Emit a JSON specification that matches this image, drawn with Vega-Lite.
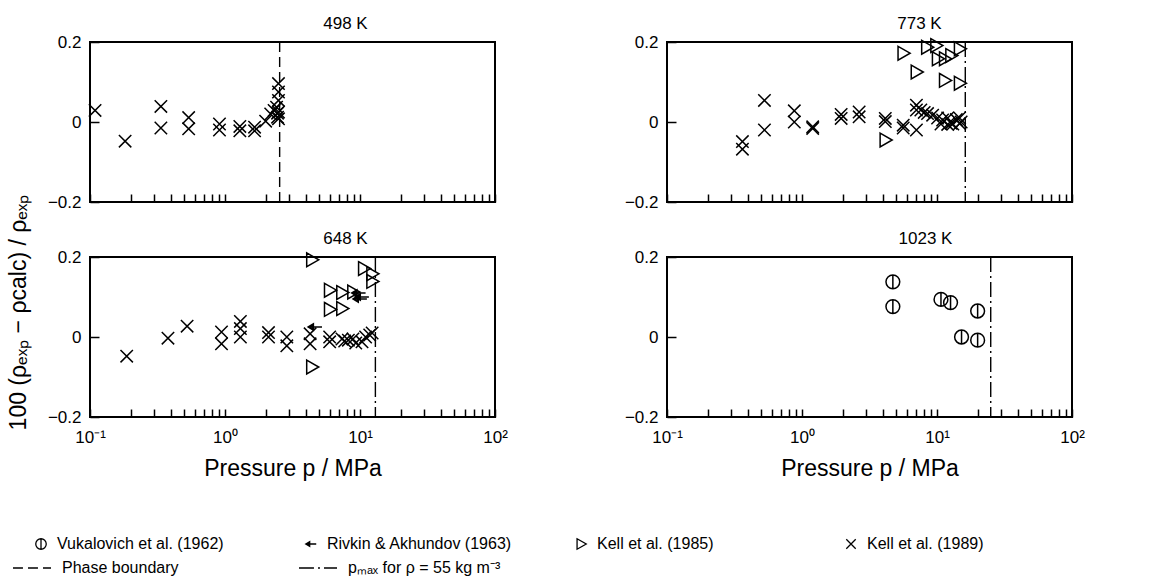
{
  "$schema": "https://vega.github.io/schema/vega-lite/v6.json",
  "background": "white",
  "padding": {"left": 6, "top": 14, "right": 10, "bottom": 0},
  "config": {
    "font": "Liberation Sans",
    "view": {"stroke": "black", "strokeWidth": 2},
    "axis": {"grid": false, "domain": false, "tickColor": "black", "tickWidth": 1.5, "labelColor": "black", "labelFontSize": 17, "labelFont": "Liberation Sans", "titleColor": "black", "titleFont": "Liberation Sans", "titleFontWeight": "normal"},
    "title": {"fontSize": 17, "fontWeight": "normal", "color": "black", "font": "Liberation Sans", "frame": "group"},
    "legend": {"labelFont": "Liberation Sans", "labelFontSize": 16, "labelColor": "black", "labelLimit": 400}
  },
  "datasets": {
    "pts": [
      {"T": "498", "p": 0.109, "d": 0.029, "s": "K89"},
      {"T": "498", "p": 0.182, "d": -0.048, "s": "K89"},
      {"T": "498", "p": 0.335, "d": 0.039, "s": "K89"},
      {"T": "498", "p": 0.335, "d": -0.015, "s": "K89"},
      {"T": "498", "p": 0.538, "d": 0.011, "s": "K89"},
      {"T": "498", "p": 0.538, "d": -0.017, "s": "K89"},
      {"T": "498", "p": 0.91, "d": -0.005, "s": "K89"},
      {"T": "498", "p": 0.91, "d": -0.02, "s": "K89"},
      {"T": "498", "p": 1.288, "d": -0.011, "s": "K89"},
      {"T": "498", "p": 1.288, "d": -0.022, "s": "K89"},
      {"T": "498", "p": 1.656, "d": -0.013, "s": "K89"},
      {"T": "498", "p": 1.656, "d": -0.022, "s": "K89"},
      {"T": "498", "p": 2.0, "d": 0.002, "s": "K89"},
      {"T": "498", "p": 2.18, "d": 0.02, "s": "K89"},
      {"T": "498", "p": 2.31, "d": 0.029, "s": "K89"},
      {"T": "498", "p": 2.41, "d": 0.037, "s": "K89"},
      {"T": "498", "p": 2.45, "d": 0.022, "s": "K89"},
      {"T": "498", "p": 2.45, "d": 0.012, "s": "K89"},
      {"T": "498", "p": 2.49, "d": 0.096, "s": "K89"},
      {"T": "498", "p": 2.49, "d": 0.075, "s": "K89"},
      {"T": "498", "p": 2.49, "d": 0.054, "s": "K89"},
      {"T": "498", "p": 2.49, "d": 0.025, "s": "K89"},
      {"T": "498", "p": 2.49, "d": 0.008, "s": "K89"},
      {"T": "773", "p": 0.362, "d": -0.049, "s": "K89"},
      {"T": "773", "p": 0.362, "d": -0.068, "s": "K89"},
      {"T": "773", "p": 0.527, "d": 0.054, "s": "K89"},
      {"T": "773", "p": 0.527, "d": -0.02, "s": "K89"},
      {"T": "773", "p": 0.877, "d": 0.028, "s": "K89"},
      {"T": "773", "p": 0.877, "d": 0.0, "s": "K89"},
      {"T": "773", "p": 1.2, "d": -0.012, "s": "K89"},
      {"T": "773", "p": 1.2, "d": -0.016, "s": "K89"},
      {"T": "773", "p": 1.95, "d": 0.019, "s": "K89"},
      {"T": "773", "p": 1.95, "d": 0.009, "s": "K89"},
      {"T": "773", "p": 2.65, "d": 0.025, "s": "K89"},
      {"T": "773", "p": 2.65, "d": 0.013, "s": "K89"},
      {"T": "773", "p": 4.14, "d": 0.009, "s": "K89"},
      {"T": "773", "p": 4.14, "d": 0.001, "s": "K89"},
      {"T": "773", "p": 5.62, "d": -0.008, "s": "K89"},
      {"T": "773", "p": 5.62, "d": -0.015, "s": "K89"},
      {"T": "773", "p": 7.04, "d": 0.042, "s": "K89"},
      {"T": "773", "p": 7.04, "d": 0.03, "s": "K89"},
      {"T": "773", "p": 7.04, "d": -0.02, "s": "K89"},
      {"T": "773", "p": 7.59, "d": 0.03, "s": "K89"},
      {"T": "773", "p": 8.04, "d": 0.024, "s": "K89"},
      {"T": "773", "p": 8.51, "d": 0.021, "s": "K89"},
      {"T": "773", "p": 9.28, "d": 0.017, "s": "K89"},
      {"T": "773", "p": 10.1, "d": 0.01, "s": "K89"},
      {"T": "773", "p": 10.7, "d": -0.005, "s": "K89"},
      {"T": "773", "p": 11.0, "d": 0.005, "s": "K89"},
      {"T": "773", "p": 12.0, "d": 0.01, "s": "K89"},
      {"T": "773", "p": 12.0, "d": -0.006, "s": "K89"},
      {"T": "773", "p": 12.7, "d": -0.003, "s": "K89"},
      {"T": "773", "p": 13.1, "d": -0.005, "s": "K89"},
      {"T": "773", "p": 13.9, "d": 0.006, "s": "K89"},
      {"T": "773", "p": 14.7, "d": 0.01, "s": "K89"},
      {"T": "773", "p": 14.7, "d": -0.004, "s": "K89"},
      {"T": "773", "p": 15.1, "d": 0.0, "s": "K89"},
      {"T": "773", "p": 4.14, "d": -0.045, "s": "K85"},
      {"T": "773", "p": 5.62, "d": 0.172, "s": "K85"},
      {"T": "773", "p": 7.04, "d": 0.125, "s": "K85"},
      {"T": "773", "p": 8.41, "d": 0.187, "s": "K85"},
      {"T": "773", "p": 9.83, "d": 0.191, "s": "K85"},
      {"T": "773", "p": 10.1, "d": 0.158, "s": "K85"},
      {"T": "773", "p": 11.4, "d": 0.158, "s": "K85"},
      {"T": "773", "p": 12.7, "d": 0.166, "s": "K85"},
      {"T": "773", "p": 11.4, "d": 0.104, "s": "K85"},
      {"T": "773", "p": 14.7, "d": 0.183, "s": "K85"},
      {"T": "773", "p": 14.7, "d": 0.097, "s": "K85"},
      {"T": "648", "p": 0.187, "d": -0.048, "s": "K89"},
      {"T": "648", "p": 0.378, "d": -0.003, "s": "K89"},
      {"T": "648", "p": 0.524, "d": 0.027, "s": "K89"},
      {"T": "648", "p": 0.942, "d": 0.0125, "s": "K89"},
      {"T": "648", "p": 0.942, "d": -0.017, "s": "K89"},
      {"T": "648", "p": 1.3, "d": 0.039, "s": "K89"},
      {"T": "648", "p": 1.3, "d": 0.021, "s": "K89"},
      {"T": "648", "p": 1.3, "d": 0.0, "s": "K89"},
      {"T": "648", "p": 2.1, "d": 0.011, "s": "K89"},
      {"T": "648", "p": 2.1, "d": 0.0, "s": "K89"},
      {"T": "648", "p": 2.87, "d": 0.0, "s": "K89"},
      {"T": "648", "p": 2.87, "d": -0.022, "s": "K89"},
      {"T": "648", "p": 4.27, "d": 0.008, "s": "K89"},
      {"T": "648", "p": 4.27, "d": -0.017, "s": "K89"},
      {"T": "648", "p": 5.96, "d": 0.0, "s": "K89"},
      {"T": "648", "p": 5.96, "d": -0.012, "s": "K89"},
      {"T": "648", "p": 7.35, "d": -0.005, "s": "K89"},
      {"T": "648", "p": 7.7, "d": -0.01, "s": "K89"},
      {"T": "648", "p": 8.2, "d": -0.008, "s": "K89"},
      {"T": "648", "p": 8.87, "d": -0.005, "s": "K89"},
      {"T": "648", "p": 9.3, "d": -0.015, "s": "K89"},
      {"T": "648", "p": 10.35, "d": -0.012, "s": "K89"},
      {"T": "648", "p": 11.0, "d": 0.0, "s": "K89"},
      {"T": "648", "p": 11.8, "d": 0.005, "s": "K89"},
      {"T": "648", "p": 12.3, "d": 0.01, "s": "K89"},
      {"T": "648", "p": 4.4, "d": 0.193, "s": "K85"},
      {"T": "648", "p": 4.4, "d": -0.075, "s": "K85"},
      {"T": "648", "p": 5.96, "d": 0.117, "s": "K85"},
      {"T": "648", "p": 5.96, "d": 0.069, "s": "K85"},
      {"T": "648", "p": 7.35, "d": 0.111, "s": "K85"},
      {"T": "648", "p": 7.35, "d": 0.071, "s": "K85"},
      {"T": "648", "p": 8.87, "d": 0.1125, "s": "K85"},
      {"T": "648", "p": 10.66, "d": 0.171, "s": "K85"},
      {"T": "648", "p": 12.28, "d": 0.158, "s": "K85"},
      {"T": "648", "p": 12.28, "d": 0.139, "s": "K85"},
      {"T": "648", "p": 4.65, "d": 0.025, "s": "R"},
      {"T": "648", "p": 9.78, "d": 0.11, "s": "R"},
      {"T": "648", "p": 10.35, "d": 0.1, "s": "R"},
      {"T": "648", "p": 10.0, "d": 0.095, "s": "R"},
      {"T": "1023", "p": 4.71, "d": 0.138, "s": "V"},
      {"T": "1023", "p": 4.71, "d": 0.076, "s": "V"},
      {"T": "1023", "p": 10.7, "d": 0.094, "s": "V"},
      {"T": "1023", "p": 12.6, "d": 0.086, "s": "V"},
      {"T": "1023", "p": 20.0, "d": 0.065, "s": "V"},
      {"T": "1023", "p": 15.2, "d": 0.0, "s": "V"},
      {"T": "1023", "p": 20.0, "d": -0.008, "s": "V"}
    ],
    "lines": [
      {"T": "498", "p": 2.54, "k": "PB"},
      {"T": "773", "p": 16.2, "k": "PM"},
      {"T": "648", "p": 13.0, "k": "PM"},
      {"T": "1023", "p": 25.0, "k": "PM"}
    ]
  },
  "columns": 2,
  "spacing": {"row": 55, "column": 172},
  "bounds": "flush",
  "resolve": {
    "scale": {"shape": "shared", "strokeDash": "shared"},
    "legend": {"shape": "shared", "strokeDash": "shared"}
  },
  "concat": [
    {
      "width": 405, "height": 160,
      "title": {"text": "498 K", "dx": 53, "offset": 0},
      "layer": [
        {"mark": {"type": "rule", "color": "black", "strokeWidth": 2}, "encoding": {"y": {"datum": 0, "type": "quantitative"}}},
        {"data": {"name": "lines"}, "transform": [{"filter": "datum.T == '498'"}],
         "mark": {"type": "rule", "color": "black", "strokeWidth": 1.4},
         "encoding": {"x": {"field": "p", "type": "quantitative"},
           "strokeDash": {"field": "k", "type": "nominal", "scale": {"domain": ["PB", "PM"], "range": [[10, 5], [15, 4, 2, 4]]},
             "legend": {"title": null, "orient": "none", "legendX": -78, "legendY": 506, "direction": "horizontal", "columns": 2, "gridAlign": "all", "columnPadding": 81, "symbolType": "stroke", "symbolSize": 1450, "symbolStrokeWidth": 1.4, "symbolStrokeColor": "black", "labelOffset": 10,
               "labelExpr": "datum.label == 'PB' ? 'Phase boundary' : 'pₘₐₓ for ρ = 55 kg m⁻³'"}}}},
        {"data": {"name": "pts"}, "transform": [{"filter": "datum.T == '498'"}],
         "mark": {"type": "point", "filled": false, "color": "black", "strokeWidth": 1.5, "size": 190, "opacity": 1},
         "encoding": {
           "x": {"field": "p", "type": "quantitative", "scale": {"type": "log", "domain": [0.1, 100]},
             "axis": {"values": [0.1,0.2,0.3,0.4,0.5,0.6,0.7,0.8,0.9,1,2,3,4,5,6,7,8,9,10,20,30,40,50,60,70,80,90,100], "labels": false, "tickSize": -8, "title": null}},
           "y": {"field": "d", "type": "quantitative", "scale": {"domain": [-0.2, 0.2], "nice": false, "zero": false},
             "axis": {"values": [-0.2, -0.1, 0, 0.1, 0.2], "labelExpr": "datum.value == 0 ? '0' : (abs(datum.value) > 0.15 ? datum.label : '')", "tickSize": -9, "labelPadding": 18,
               "title": "100 (ρₑₓₚ − ρcalc) / ρₑₓₚ", "titleX": -72, "titleY": 270, "titleFontSize": 23, "titleAngle": -90, "titleAlign": "center", "titleBaseline": "middle"}},
           "shape": {"field": "s", "type": "nominal", "scale": {"domain": ["V", "R", "K85", "K89"], "range": ["M -1 0 A 1 1 0 1 1 1 0 A 1 1 0 1 1 -1 0 Z M 0 -1 L 0 1", "M -1 0 L -0.25 -0.45 L -0.25 0.45 Z M -0.75 0 L -0.35 -0.2 L -0.35 0.2 Z M -0.5 0 L 1 0", "M -0.75 -1 L 1 0 L -0.75 1 Z", "M -0.9 -0.9 L 0.9 0.9 M -0.9 0.9 L 0.9 -0.9"]},
             "legend": {"title": null, "orient": "none", "legendX": -57, "legendY": 494, "direction": "horizontal", "columns": 4, "gridAlign": "all", "columnPadding": 61, "symbolSize": 110, "symbolStrokeColor": "black", "symbolStrokeWidth": 1.3, "symbolFillColor": "transparent", "labelOffset": 8,
               "labelExpr": "datum.label == 'V' ? 'Vukalovich et al. (1962)' : datum.label == 'R' ? 'Rivkin & Akhundov (1963)' : datum.label == 'K85' ? 'Kell et al. (1985)' : 'Kell et al. (1989)'"}}
         }}
      ]
    },
    {
      "width": 405, "height": 160,
      "title": {"text": "773 K", "dx": 50, "offset": 0},
      "layer": [
        {"mark": {"type": "rule", "color": "black", "strokeWidth": 2}, "encoding": {"y": {"datum": 0, "type": "quantitative"}}},
        {"data": {"name": "lines"}, "transform": [{"filter": "datum.T == '773'"}],
         "mark": {"type": "rule", "color": "black", "strokeWidth": 1.4},
         "encoding": {"x": {"field": "p", "type": "quantitative"},
           "strokeDash": {"field": "k", "type": "nominal", "scale": {"domain": ["PB", "PM"], "range": [[10, 5], [15, 4, 2, 4]]}}}},
        {"data": {"name": "pts"}, "transform": [{"filter": "datum.T == '773'"}],
         "mark": {"type": "point", "filled": false, "color": "black", "strokeWidth": 1.5, "size": 190, "opacity": 1},
         "encoding": {
           "x": {"field": "p", "type": "quantitative", "scale": {"type": "log", "domain": [0.1, 100]},
             "axis": {"values": [0.1,0.2,0.3,0.4,0.5,0.6,0.7,0.8,0.9,1,2,3,4,5,6,7,8,9,10,20,30,40,50,60,70,80,90,100], "labels": false, "tickSize": -8, "title": null}},
           "y": {"field": "d", "type": "quantitative", "scale": {"domain": [-0.2, 0.2], "nice": false, "zero": false},
             "axis": {"values": [-0.2, -0.1, 0, 0.1, 0.2], "labelExpr": "datum.value == 0 ? '0' : (abs(datum.value) > 0.15 ? datum.label : '')", "tickSize": -9, "labelPadding": 18, "title": null}},
           "shape": {"field": "s", "type": "nominal", "scale": {"domain": ["V", "R", "K85", "K89"], "range": ["M -1 0 A 1 1 0 1 1 1 0 A 1 1 0 1 1 -1 0 Z M 0 -1 L 0 1", "M -1 0 L -0.25 -0.45 L -0.25 0.45 Z M -0.75 0 L -0.35 -0.2 L -0.35 0.2 Z M -0.5 0 L 1 0", "M -0.75 -1 L 1 0 L -0.75 1 Z", "M -0.9 -0.9 L 0.9 0.9 M -0.9 0.9 L 0.9 -0.9"]}}
         }}
      ]
    },
    {
      "width": 405, "height": 160,
      "title": {"text": "648 K", "dx": 53, "offset": 0},
      "layer": [
        {"mark": {"type": "rule", "color": "black", "strokeWidth": 2}, "encoding": {"y": {"datum": 0, "type": "quantitative"}}},
        {"data": {"name": "lines"}, "transform": [{"filter": "datum.T == '648'"}],
         "mark": {"type": "rule", "color": "black", "strokeWidth": 1.4},
         "encoding": {"x": {"field": "p", "type": "quantitative"},
           "strokeDash": {"field": "k", "type": "nominal", "scale": {"domain": ["PB", "PM"], "range": [[10, 5], [15, 4, 2, 4]]}}}},
        {"data": {"name": "pts"}, "transform": [{"filter": "datum.T == '648'"}],
         "mark": {"type": "point", "filled": false, "color": "black", "strokeWidth": 1.5, "size": 190, "opacity": 1},
         "encoding": {
           "x": {"field": "p", "type": "quantitative", "scale": {"type": "log", "domain": [0.1, 100]},
             "axis": {"values": [0.1,0.2,0.3,0.4,0.5,0.6,0.7,0.8,0.9,1,2,3,4,5,6,7,8,9,10,20,30,40,50,60,70,80,90,100], "tickSize": -8, "labelPadding": 20, "labelFlush": false, "labelOverlap": false,
               "labelExpr": "datum.value == 0.1 ? '10⁻¹' : datum.value == 1 ? '10⁰' : datum.value == 10 ? '10¹' : datum.value == 100 ? '10²' : ''",
               "title": "Pressure p / MPa", "titleFontSize": 23, "titlePadding": 12}},
           "y": {"field": "d", "type": "quantitative", "scale": {"domain": [-0.2, 0.2], "nice": false, "zero": false},
             "axis": {"values": [-0.2, -0.1, 0, 0.1, 0.2], "labelExpr": "datum.value == 0 ? '0' : (abs(datum.value) > 0.15 ? datum.label : '')", "tickSize": -9, "labelPadding": 18, "title": null}},
           "shape": {"field": "s", "type": "nominal", "scale": {"domain": ["V", "R", "K85", "K89"], "range": ["M -1 0 A 1 1 0 1 1 1 0 A 1 1 0 1 1 -1 0 Z M 0 -1 L 0 1", "M -1 0 L -0.25 -0.45 L -0.25 0.45 Z M -0.75 0 L -0.35 -0.2 L -0.35 0.2 Z M -0.5 0 L 1 0", "M -0.75 -1 L 1 0 L -0.75 1 Z", "M -0.9 -0.9 L 0.9 0.9 M -0.9 0.9 L 0.9 -0.9"]}}
         }}
      ]
    },
    {
      "width": 405, "height": 160,
      "title": {"text": "1023 K", "dx": 56, "offset": 0},
      "layer": [
        {"mark": {"type": "rule", "color": "black", "strokeWidth": 2}, "encoding": {"y": {"datum": 0, "type": "quantitative"}}},
        {"data": {"name": "lines"}, "transform": [{"filter": "datum.T == '1023'"}],
         "mark": {"type": "rule", "color": "black", "strokeWidth": 1.4},
         "encoding": {"x": {"field": "p", "type": "quantitative"},
           "strokeDash": {"field": "k", "type": "nominal", "scale": {"domain": ["PB", "PM"], "range": [[10, 5], [15, 4, 2, 4]]}}}},
        {"data": {"name": "pts"}, "transform": [{"filter": "datum.T == '1023'"}],
         "mark": {"type": "point", "filled": false, "color": "black", "strokeWidth": 1.5, "size": 190, "opacity": 1},
         "encoding": {
           "x": {"field": "p", "type": "quantitative", "scale": {"type": "log", "domain": [0.1, 100]},
             "axis": {"values": [0.1,0.2,0.3,0.4,0.5,0.6,0.7,0.8,0.9,1,2,3,4,5,6,7,8,9,10,20,30,40,50,60,70,80,90,100], "tickSize": -8, "labelPadding": 20, "labelFlush": false, "labelOverlap": false,
               "labelExpr": "datum.value == 0.1 ? '10⁻¹' : datum.value == 1 ? '10⁰' : datum.value == 10 ? '10¹' : datum.value == 100 ? '10²' : ''",
               "title": "Pressure p / MPa", "titleFontSize": 23, "titlePadding": 12}},
           "y": {"field": "d", "type": "quantitative", "scale": {"domain": [-0.2, 0.2], "nice": false, "zero": false},
             "axis": {"values": [-0.2, -0.1, 0, 0.1, 0.2], "labelExpr": "datum.value == 0 ? '0' : (abs(datum.value) > 0.15 ? datum.label : '')", "tickSize": -9, "labelPadding": 18, "title": null}},
           "shape": {"field": "s", "type": "nominal", "scale": {"domain": ["V", "R", "K85", "K89"], "range": ["M -1 0 A 1 1 0 1 1 1 0 A 1 1 0 1 1 -1 0 Z M 0 -1 L 0 1", "M -1 0 L -0.25 -0.45 L -0.25 0.45 Z M -0.75 0 L -0.35 -0.2 L -0.35 0.2 Z M -0.5 0 L 1 0", "M -0.75 -1 L 1 0 L -0.75 1 Z", "M -0.9 -0.9 L 0.9 0.9 M -0.9 0.9 L 0.9 -0.9"]}}
         }}
      ]
    }
  ]
}
